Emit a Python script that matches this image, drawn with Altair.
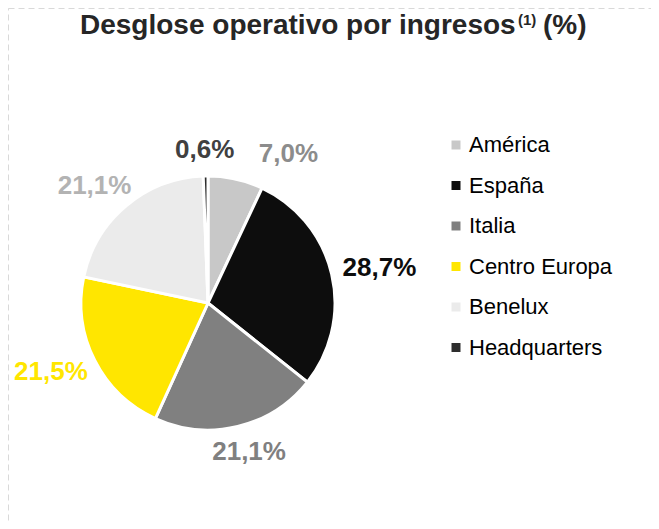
import altair as alt
import pandas as pd

# ---- data ----
regions = ["América", "España", "Italia", "Centro Europa", "Benelux", "Headquarters"]
shares = [7.0, 28.7, 21.1, 21.5, 21.1, 0.6]
slice_colors = ["#c8c8c8", "#0d0d0d", "#808080", "#ffe600", "#ebebeb", "#2e2e2e"]
label_colors = ["#8c8c8c", "#0d0d0d", "#808080", "#ffe600", "#b3b3b3", "#404040"]
title_main = "Desglose operativo por ingresos"
title_sup = "(1)"
title_tail = "(%)"

df = pd.DataFrame({"region": regions, "share": shares, "idx": list(range(len(regions)))})

FONT = "Liberation Sans"
W, H = 643, 513
CX, CY = 200, 295
R = 127

base = alt.Chart(df).transform_calculate(
    label="replace(format(datum.share, '.1f'), '.', ',') + '%'"
)

pie = base.mark_arc(outerRadius=R, stroke="white", strokeWidth=3).encode(
    theta=alt.Theta("share:Q", stack=True),
    order=alt.Order("idx:Q"),
    color=alt.Color(
        "region:N",
        sort=regions,
        scale=alt.Scale(domain=regions, range=slice_colors),
        legend=alt.Legend(
            title=None,
            orient="none",
            legendX=437,
            legendY=126,
            symbolType="square",
            symbolSize=81,
            symbolStrokeWidth=0,
            labelFont=FONT,
            labelFontSize=22,
            labelColor="#000000",
            labelOffset=2,
            rowPadding=18.5,
            padding=0,
            labelLimit=400,
        ),
    ),
    x=alt.value(CX),
    y=alt.value(CY),
)

labels = (
    base.transform_joinaggregate(total="sum(share)")
    .transform_window(cum="sum(share)", sort=[alt.SortField("idx")], frame=[None, 0])
    .transform_calculate(ang="2*PI*(datum.cum - datum.share/2)/datum.total")
    .mark_text(
        font=FONT,
        fontSize=26,
        fontWeight="bold",
        align="center",
        baseline="middle",
        dx=alt.ExprRef(expr="36*sin(datum.ang) + (datum.region == 'América' ? 42 : 0)"),
        dy=alt.ExprRef(expr="-13*cos(datum.ang)"),
    )
    .encode(
        theta=alt.Theta("share:Q", stack=True),
        order=alt.Order("idx:Q"),
        radius=alt.value(R + 13),
        text="label:N",
        color=alt.Color(
            "region:N",
            scale=alt.Scale(domain=regions, range=label_colors),
            legend=None,
        ),
        x=alt.value(CX),
        y=alt.value(CY),
    )
)

TX = 72
title_a = (
    alt.Chart(pd.DataFrame({"t": [title_main]}))
    .mark_text(font=FONT, fontSize=28, fontWeight="bold", color="#262626",
               align="left", baseline="alphabetic")
    .encode(text="t:N", x=alt.value(TX), y=alt.value(25.5))
)
title_b = (
    alt.Chart(pd.DataFrame({"t": [title_sup]}))
    .mark_text(font=FONT, fontSize=15, fontWeight="bold", color="#262626",
               align="left", baseline="alphabetic")
    .encode(text="t:N", x=alt.value(TX + 438), y=alt.value(17))
)
title_c = (
    alt.Chart(pd.DataFrame({"t": [title_tail]}))
    .mark_text(font=FONT, fontSize=28, fontWeight="bold", color="#262626",
               align="left", baseline="alphabetic")
    .encode(text="t:N", x=alt.value(TX + 463), y=alt.value(25.5))
)

chart = (
    alt.layer(pie, labels, title_a, title_b, title_c)
    .resolve_scale(color="independent")
    .properties(width=W, height=H, padding=0, autosize="none")
    .configure_view(stroke="#d9d9d9", strokeDash=[6, 4], strokeWidth=1)
)

chart.save("out.html", embed_options={"renderer": "svg", "actions": False})
